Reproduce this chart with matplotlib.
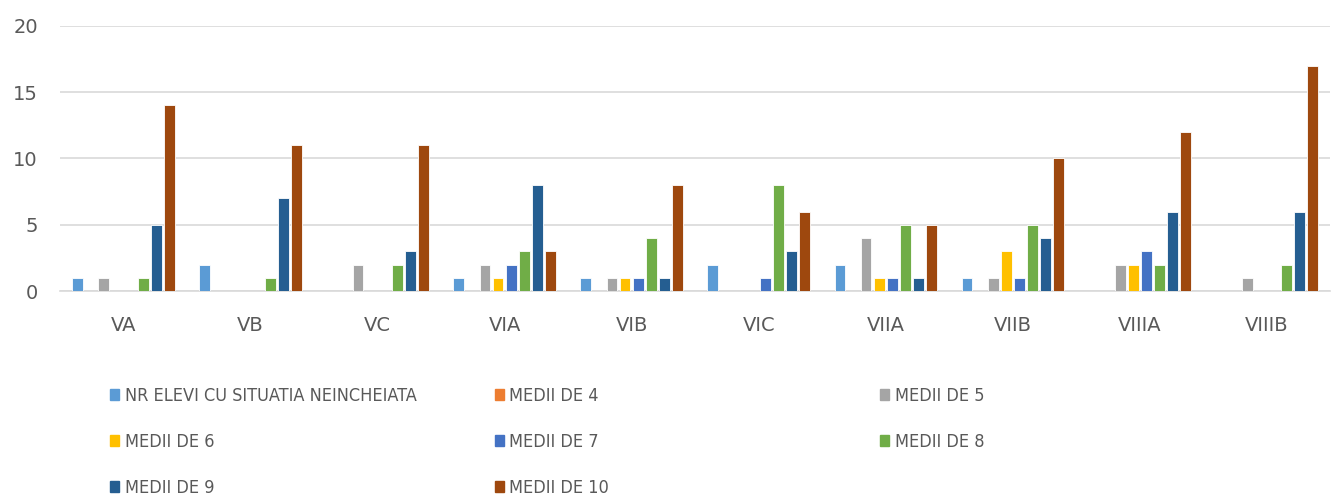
import matplotlib.pyplot as plt
import matplotlib.patches as mpatches
import numpy as np
from matplotlib import font_manager

# clase si serii
clase = ['VA', 'VB', 'VC', 'VIA', 'VIB', 'VIC', 'VIIA', 'VIIB', 'VIIIA', 'VIIIB']
serii = ['NR ELEVI CU SITUATIA NEINCHEIATA', 'MEDII DE 4', 'MEDII DE 5', 'MEDII DE 6',
         'MEDII DE 7', 'MEDII DE 8', 'MEDII DE 9', 'MEDII DE 10']

nr_neincheiata = [1, 2, 0, 1, 1, 2, 2, 1, 0, 0]
medii_4 = [0, 0, 0, 0, 0, 0, 0, 0, 0, 0]
medii_5 = [1, 0, 2, 2, 1, 0, 4, 1, 2, 1]
medii_6 = [0, 0, 0, 1, 1, 0, 1, 3, 2, 0]
medii_7 = [0, 0, 0, 2, 1, 1, 1, 1, 3, 0]
medii_8 = [1, 1, 2, 3, 4, 8, 5, 5, 2, 2]
medii_9 = [5, 7, 3, 8, 1, 3, 1, 4, 6, 6]
medii_10 = [14, 11, 11, 3, 8, 6, 5, 10, 12, 17]

culori = ['#5B9BD5', '#ED7D31', '#A5A5A5', '#FFC000', '#4472C4', '#70AD47', '#255E91', '#9E480E']

date = [nr_neincheiata, medii_4, medii_5, medii_6, medii_7, medii_8, medii_9, medii_10]

# cautam un font ingust (condensed / narrow) pentru legenda
fisier = None
for f in font_manager.fontManager.ttflist:
    ingust = 'Narrow' in f.name or 'Condensed' in f.name or str(f.stretch) in ('condensed', 'semi-condensed', '500', '300', '400')
    if ingust and f.style == 'normal' and f.weight in (400, 'normal', 'regular'):
        if fisier is None or 'Liberation' in f.name:
            fisier = f.fname
if fisier:
    prop_leg = font_manager.FontProperties(fname=fisier, size=13)
else:
    prop_leg = font_manager.FontProperties(family='DejaVu Sans', stretch='condensed', size=11)

fig = plt.figure(figsize=(13.33, 4.96), dpi=100)
ax = fig.add_axes([0.045, 0.413, 0.953, 0.535])

x = np.arange(len(clase))
slot = 0.103
w = 0.085
for k in range(len(serii)):
    ax.bar(x + (k - 3.5) * slot, date[k], width=w, color=culori[k],
           edgecolor='white', linewidth=0.6, zorder=3, label=serii[k])

ax.set_xlim(-0.5, len(clase) - 0.5)
ax.set_ylim(0, 20)
ax.set_yticks([0, 5, 10, 15, 20])
ax.set_xticks(x)
ax.set_xticklabels(clase)
ax.grid(axis='y', color='#D9D9D9', linewidth=1.2, zorder=0)
for s in ['top', 'left', 'right']:
    ax.spines[s].set_visible(False)
ax.spines['bottom'].set_color('#D9D9D9')
ax.spines['bottom'].set_linewidth(1.2)
ax.tick_params(axis='both', length=0, labelsize=14, labelcolor='#595959')
ax.tick_params(axis='y', pad=16)
ax.tick_params(axis='x', pad=18)

# legenda pe trei coloane, asezata pe randuri ca in Excel
coloane = [[0, 3, 6], [1, 4, 7], [2, 5]]
poz_x = [0.076, 0.3645, 0.6535]
for c, idx in enumerate(coloane):
    h = [mpatches.Patch(color=culori[i]) for i in idx]
    l = [serii[i] for i in idx]
    leg = fig.legend(h, l, loc='upper left', bbox_to_anchor=(poz_x[c], 0.238),
                     frameon=False, handlelength=0.5, handleheight=0.5,
                     handletextpad=0.3, labelspacing=1.55, borderpad=0,
                     prop=prop_leg)
    for t in leg.get_texts():
        t.set_color('#595959')

fig.savefig('out.png', dpi=100)
